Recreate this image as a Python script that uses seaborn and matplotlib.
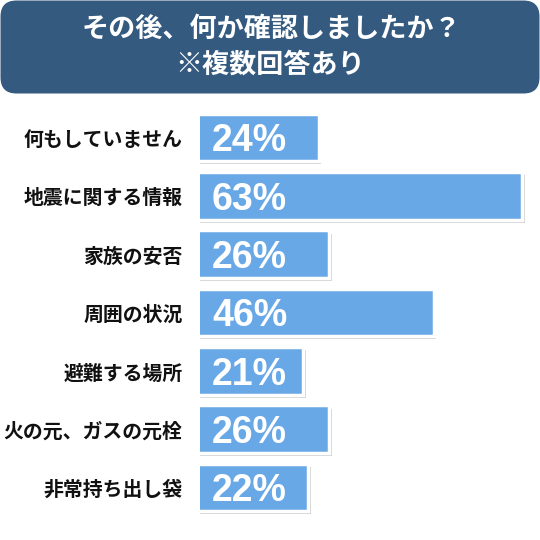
import matplotlib
matplotlib.use('Agg')
import matplotlib.pyplot as plt
import matplotlib.patheffects as pe
from matplotlib.patches import FancyBboxPatch
import seaborn as sns

# データ
labels = ['何もしていません', '地震に関する情報', '家族の安否', '周囲の状況',
          '避難する場所', '火の元、ガスの元栓', '非常持ち出し袋']
values = [24, 63, 26, 46, 21, 26, 22]
value_labels = ['24%', '63%', '26%', '46%', '21%', '26%', '22%']
title_lines = ['その後、何か確認しましたか？', '※複数回答あり']

bar_color = '#68a8e6'
title_color = '#345a80'

sns.set_style('white')
plt.rcParams['font.family'] = ['Noto Sans CJK JP', 'DejaVu Sans']

fig = plt.figure(figsize=(5.4, 5.4), dpi=100)

# タイトルの箱
tax = fig.add_axes([0, 1 - 94 / 540, 1, 94 / 540])
tax.set_xlim(0, 540)
tax.set_ylim(94, 0)
tax.axis('off')
tax.add_patch(FancyBboxPatch((0.5, 0.5), 539, 93,
                             boxstyle='round,pad=0,rounding_size=16',
                             facecolor=title_color, edgecolor='none'))
tax.text(271, 29, title_lines[0], color='white', fontsize=19.5, fontweight='bold',
         ha='center', va='center')
tax.text(270, 65, title_lines[1], color='white', fontsize=19.5, fontweight='bold',
         ha='center', va='center')

# 棒グラフ
ax = fig.add_axes([200 / 540, (540 - 516.7) / 540, 340 / 540, 408.3 / 540])
sns.barplot(x=values, y=labels, orient='h', color=bar_color, saturation=1,
            width=0.814, edgecolor='white', linewidth=2.5, ax=ax)
for p in ax.patches:
    p.set_path_effects([pe.SimplePatchShadow(offset=(1.8, -2.2),
                                             shadow_rgbFace='#777777', alpha=0.35),
                        pe.Normal()])

ax.set_xlim(1.23, 66.36)
ax.set_ylim(6.5, -0.5)
ax.set_xlabel('')
ax.set_ylabel('')
ax.set_xticks([])
sns.despine(ax=ax, left=True, bottom=True)
ax.tick_params(axis='y', length=0, pad=12.5)
for t in ax.get_yticklabels():
    t.set_fontsize(14.3)
    t.set_fontweight('bold')
    t.set_color('#111111')

for i, txt in enumerate(value_labels):
    ax.annotate(txt, xy=(0, i), xycoords=('axes fraction', 'data'),
                xytext=(8.6, -10), textcoords='offset points',
                ha='left', va='baseline', color='white', fontsize=27,
                fontweight='bold', family=['Liberation Sans', 'DejaVu Sans'])

fig.savefig('out.png', dpi=100)
